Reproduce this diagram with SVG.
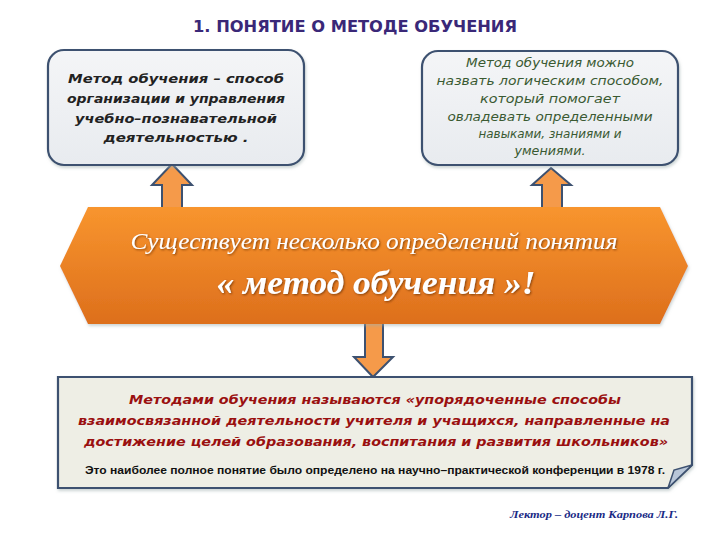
<svg xmlns="http://www.w3.org/2000/svg" width="720" height="540" viewBox="0 0 720 540">
<defs>
<linearGradient id="org" x1="0" y1="0" x2="0" y2="1">
<stop offset="0" stop-color="#f8952e"/>
<stop offset="1" stop-color="#dd6f1c"/>
</linearGradient>
<linearGradient id="box" x1="0" y1="0" x2="0" y2="1">
<stop offset="0" stop-color="#f4f5f7"/>
<stop offset="1" stop-color="#e8ebef"/>
</linearGradient>
<filter id="sh" x="-10%" y="-10%" width="120%" height="130%">
<feDropShadow dx="1" dy="2" stdDeviation="1.5" flood-color="#9aa" flood-opacity="0.5"/>
</filter>
<filter id="tsh" x="-5%" y="-20%" width="110%" height="140%">
<feDropShadow dx="1" dy="1" stdDeviation="0.8" flood-color="#6a3000" flood-opacity="0.8"/>
</filter>
</defs>
<style>
.box{fill:url(#box);stroke:#3d5170;stroke-width:2.2}
.arrow{fill:#f59a4a;stroke:#3d5170;stroke-width:2;stroke-linejoin:miter}
.t1{font-family:"DejaVu Sans",Verdana,sans-serif;font-style:italic;font-weight:bold;font-size:13px;fill:#222;text-anchor:middle}
.t2{font-family:"DejaVu Sans",Verdana,sans-serif;font-style:italic;font-size:12px;fill:#3a5a32;text-anchor:middle}
.t3{font-family:"DejaVu Sans",Verdana,sans-serif;font-style:italic;font-weight:bold;font-size:13px;fill:#9a1010;text-anchor:middle}
.sc{font-family:"Liberation Serif","DejaVu Serif",serif;font-style:italic;fill:#fff;text-anchor:middle}
</style>
<rect width="720" height="540" fill="#fff"/>
<text x="355" y="32" font-family="DejaVu Sans,Arial,sans-serif" font-weight="bold" font-size="16" fill="#3a2878" text-anchor="middle" textLength="324" lengthAdjust="spacingAndGlyphs">1.  ПОНЯТИЕ О МЕТОДЕ ОБУЧЕНИЯ</text>

<g id="connectors">
<polygon class="arrow" points="172,164 192,185 182,185 182,208 162,208 162,185 152,185"/>
<polygon class="arrow" points="551,168 571,185 562,185 562,208 542,208 542,185 532,185"/>
<polygon class="arrow" points="365,322 383,322 383,357 393,357 373,377 354,357 365,357"/>
</g>

<g id="node-def1">
<rect class="box" x="48" y="50" width="256" height="115" rx="16" filter="url(#sh)"/>
<text class="t1" x="176" y="83" textLength="216" lengthAdjust="spacingAndGlyphs">Метод обучения – способ</text>
<text class="t1" x="176" y="103" textLength="218" lengthAdjust="spacingAndGlyphs">организации и управления</text>
<text class="t1" x="176" y="123" textLength="202" lengthAdjust="spacingAndGlyphs">учебно–познавательной</text>
<text class="t1" x="176" y="142" textLength="145" lengthAdjust="spacingAndGlyphs">деятельностью .</text>
</g>

<g id="node-def2">
<rect class="box" x="422" y="51" width="256" height="114" rx="16" filter="url(#sh)"/>
<text class="t2" x="550" y="67" textLength="168" lengthAdjust="spacingAndGlyphs">Метод обучения можно</text>
<text class="t2" x="550" y="85" textLength="227" lengthAdjust="spacingAndGlyphs">назвать логическим способом,</text>
<text class="t2" x="550" y="103" textLength="140" lengthAdjust="spacingAndGlyphs">который помогает</text>
<text class="t2" x="550" y="121" textLength="205" lengthAdjust="spacingAndGlyphs">овладевать определенными</text>
<text class="t2" x="550" y="138" textLength="143" lengthAdjust="spacingAndGlyphs">навыками, знаниями и</text>
<text class="t2" x="550" y="155" textLength="71" lengthAdjust="spacingAndGlyphs">умениями.</text>
</g>

<g id="node-center">
<polygon points="88,207 660,207 688,266 660,324 88,324 60,266" fill="url(#org)" filter="url(#sh)"/>
<text class="sc" x="374" y="249" font-size="23" filter="url(#tsh)" textLength="487" lengthAdjust="spacingAndGlyphs">Существует  несколько  определений  понятия</text>
<text class="sc" x="376" y="294" font-size="34" font-weight="bold" filter="url(#tsh)" textLength="319" lengthAdjust="spacingAndGlyphs">« метод  обучения »!</text>
</g>

<g id="node-def3">
<path d="M58,377 H692 V465 L668,488 H58 Z" fill="#eeeee5" stroke="#3d5170" stroke-width="2.2" filter="url(#sh)"/>
<path d="M668,488 L674,470 L692,465 Z" fill="#b8c6d8" stroke="#3d5170" stroke-width="1.5"/>
<text class="t3" x="375" y="404" textLength="492" lengthAdjust="spacingAndGlyphs">Методами обучения называются «упорядоченные способы</text>
<text class="t3" x="374" y="425" textLength="592" lengthAdjust="spacingAndGlyphs">взаимосвязанной деятельности учителя и учащихся, направленные на</text>
<text class="t3" x="376" y="446" textLength="584" lengthAdjust="spacingAndGlyphs">достижение целей образования, воспитания и развития школьников»</text>
<text x="375" y="474" font-family="Liberation Sans,Arial,sans-serif" font-weight="bold" font-size="10.5" fill="#111" text-anchor="middle" textLength="580" lengthAdjust="spacingAndGlyphs">Это наиболее полное понятие было определено на научно–практической конференции в 1978 г.</text>
</g>

<text x="594" y="518" font-family="Liberation Serif,serif" font-style="italic" font-weight="bold" font-size="11" fill="#1a2a85" text-anchor="middle" textLength="168" lengthAdjust="spacingAndGlyphs">Лектор – доцент Карпова Л.Г.</text>
</svg>
